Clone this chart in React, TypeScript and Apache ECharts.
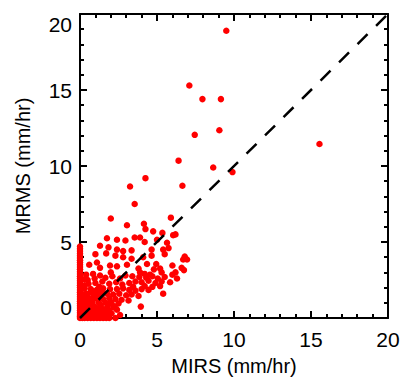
import React, { useEffect, useRef } from "react";
import * as echarts from "echarts";

// Axis setup (mm/hr)
const axisMin = 0;
const axisMax = 20;
const axisStep = 5;
const tickLabels = ["0", "5", "10", "15", "20"];

// MIRS (x) and MRMS (y) rain rates, paired by index
const mirsValues = [
  // sparse heavy-rain points
  9.5, 7.1, 7.95, 9.15, 7.45, 9.05, 6.4, 8.65, 9.9, 15.55, 6.65, 4.25, 3.25, 3.55,
  // 4-7 mm/hr band
  2.0, 5.9, 3.05, 4.15, 4.25, 4.75, 5.35, 6.05, 6.2, 1.75, 2.4, 2.95, 3.55, 3.9, 4.2, 5.0, 5.65,
  1.3, 1.85, 2.4, 2.8, 3.35, 4.65, 5.4, 5.75, 1.0, 1.7, 2.3, 2.8, 3.35, 4.1, 4.65, 5.5, 6.8, 6.7, 6.95,
  // 3-4 mm/hr band
  0.6, 1.1, 1.3, 1.95, 2.4, 3.05, 3.8, 4.35, 4.95, 5.2, 6.0, 6.6, 6.75, 6.2, 5.3, 4.8, 3.9, 4.2, 4.55, 2.0,
  // 2-3 mm/hr band
  0.4, 0.85, 1.3, 1.65, 2.1, 2.6, 2.95, 3.4, 3.85, 4.3, 4.7, 5.05, 5.5, 6.0, 6.3, 5.85, 5.3, 4.9,
  4.45, 4.0, 3.6, 3.2, 2.75, 2.35, 1.9, 1.45, 1.0, 0.55, 0.3, 5.2, 4.7, 4.2, 3.45,
  // 1-2 mm/hr band
  0.3, 0.7, 1.1, 1.5, 1.95, 2.4, 2.8, 3.2, 3.6, 4.0, 4.45, 5.4, 2.55, 2.15, 1.75, 1.3, 0.9, 0.5,
  3.0, 3.35, 3.8, 0.25, 0.65, 1.05, 1.5, 1.9, 2.3, 2.7, 3.15, 0.4, 0.8, 1.2, 1.65, 2.05, 2.5, 3.95,
  // light rain near the origin
  0.15, 0.35, 0.6, 0.95, 1.35, 1.8, 2.2, 0.1, 0.45, 0.75, 1.1, 1.5, 1.9, 2.4, 0.2, 0.55, 0.9, 1.25,
  1.65, 2.05, 0.05, 0.35, 0.7, 1.05, 1.4, 1.8, 2.6, 0.15, 0.5, 0.85, 1.2, 1.55, 0.25, 0.6,
  0.3, 0.5, 0.8, 1.0, 1.3, 0.45, 0.7, 1.15, 1.45, 0.2, 0.4, 0.65, 0.9,
  0.1, 0.25, 0.4, 0.55, 0.75, 0.95, 1.15, 1.35, 0.15, 0.3, 0.5, 0.7, 0.9, 1.1, 0.1, 0.3, 0.5,
  0.6, 0.85, 1.7, 2.0, 1.25, 1.6, 2.25, 0.95,
  // MIRS reports zero
  0, 0, 0, 0, 0, 0, 0, 0, 0, 0, 0, 0, 0, 0, 0, 0, 0,
  0, 0, 0, 0, 0, 0, 0, 0, 0, 0, 0, 0, 0, 0, 0, 0,
  // MRMS reports zero
  0.3, 0.7, 1.1, 1.5, 1.9, 2.3, 0.15, 0.5, 0.9, 1.3, 1.7,
];

const mrmsValues = [
  18.9, 15.3, 14.4, 14.4, 12.05, 12.35, 10.35, 9.9, 9.6, 11.45, 8.7, 9.2, 8.65, 7.5,
  6.55, 6.6, 6.1, 6.2, 5.85, 5.7, 5.6, 5.45, 5.5, 5.25, 5.15, 5.1, 5.3, 5.3, 5.0, 5.15, 4.95,
  4.75, 4.65, 4.5, 4.4, 4.45, 4.5, 4.5, 4.6, 4.2, 4.25, 4.1, 4.0, 3.9, 4.0, 4.1, 4.2, 4.05, 3.85, 3.85,
  3.5, 3.65, 3.3, 3.45, 3.4, 3.5, 3.25, 3.55, 3.55, 3.25, 3.45, 3.3, 3.15, 3.0, 3.0, 3.2, 3.0, 2.9, 2.85, 3.0,
  2.85, 2.9, 2.8, 2.65, 2.75, 2.6, 2.8, 2.75, 2.7, 2.65, 2.75, 2.6, 2.7, 2.85, 2.6, 2.35, 2.4, 2.3,
  2.45, 2.35, 2.4, 2.3, 2.2, 2.35, 2.25, 2.4, 2.3, 2.25, 2.55, 2.1, 2.05, 2.1, 2.05,
  1.95, 1.9, 1.85, 1.95, 1.9, 1.9, 1.95, 1.85, 1.8, 1.9, 1.85, 1.6, 1.6, 1.55, 1.6, 1.55, 1.6, 1.55,
  1.5, 1.55, 1.45, 1.3, 1.25, 1.3, 1.25, 1.3, 1.25, 1.2, 1.15, 1.05, 1.0, 1.05, 1.0, 0.95, 0.95, 0.75,
  0.9, 0.75, 0.8, 0.75, 0.8, 0.75, 0.7, 0.6, 0.55, 0.6, 0.55, 0.55, 0.5, 0.55, 0.4, 0.35, 0.4, 0.35,
  0.35, 0.3, 0.25, 0.2, 0.2, 0.2, 0.15, 0.15, 0.2, 0.05, 0.05, 0.05, 0.05, 0.05, 0.1, 0.12,
  1.1, 0.9, 1.2, 0.65, 0.9, 1.4, 1.7, 0.45, 1.75, 0.7, 1.6, 0.3, 1.4,
  0.45, 0.6, 0.3, 0.15, 0.45, 0.3, 0.5, 0.65, 0.85, 1.0, 1.15, 0.25, 1.35, 1.45, 1.6, 2.15, 2.5,
  1.1, 1.75, 0.6, 1.05, 2.05, 0.25, 0.75, 2.6,
  4.7, 4.4, 4.1, 3.8, 3.5, 3.2, 2.9, 2.6, 2.3, 2.0, 1.7, 1.4, 1.1, 0.8, 0.5, 0.2, 0,
  4.55, 4.25, 3.95, 3.65, 3.35, 3.05, 2.75, 2.45, 2.15, 1.85, 1.55, 1.25, 0.95, 0.65, 0.35, 0.1,
  0, 0, 0, 0, 0, 0, 0, 0, 0, 0, 0,
];

// 1:1 reference line
const oneToOne = [
  [axisMin, axisMin],
  [axisMax, axisMax],
];

const FONT = "'Liberation Sans', Arial, Helvetica, sans-serif";

export default function App() {
  const ref = useRef<HTMLDivElement>(null);

  useEffect(() => {
    if (!ref.current) return;
    const chart = echarts.init(ref.current, undefined, { renderer: "svg" });

    const points = mirsValues.map((x, i) => [x, mrmsValues[i]]);

    const tickStyle = { color: "#000", width: 2 };
    const frameAxis = (position: string, showLabels: boolean, extra: any = {}) => ({
      type: "value",
      position,
      min: axisMin,
      max: axisMax,
      interval: axisStep,
      axisLine: { show: true, onZero: false, lineStyle: { color: "#000", width: 2 } },
      axisTick: { show: true, inside: true, length: 7, lineStyle: tickStyle },
      minorTick: { show: true, splitNumber: 5, length: 4, lineStyle: { color: "#000", width: 2 } },
      splitLine: { show: false },
      axisLabel: showLabels
        ? {
            show: true,
            color: "#000",
            fontFamily: FONT,
            fontSize: 21,
            formatter: (v: number) => tickLabels[Math.round(v / axisStep)] ?? String(v),
            ...extra,
          }
        : { show: false },
    });

    chart.setOption({
      animation: false,
      backgroundColor: "#fff",
      grid: { left: 80, right: 17, top: 14, bottom: 60, containLabel: false },
      xAxis: [
        {
          ...frameAxis("bottom", true, { margin: 11 }),
          name: "MIRS (mm/hr)",
          nameLocation: "middle",
          nameGap: 38,
          nameTextStyle: { color: "#000", fontFamily: FONT, fontSize: 20 },
        },
        frameAxis("top", false),
      ],
      yAxis: [
        {
          ...frameAxis("left", true, {
            margin: 8,
            verticalAlignMinLabel: "bottom",
            verticalAlignMaxLabel: "top",
          }),
          name: "MRMS (mm/hr)",
          nameLocation: "middle",
          nameGap: 47,
          nameTextStyle: { color: "#000", fontFamily: FONT, fontSize: 20 },
        },
        frameAxis("right", false),
      ],
      series: [
        {
          type: "scatter",
          xAxisIndex: 0,
          yAxisIndex: 0,
          data: points,
          symbol: "circle",
          symbolSize: 6.5,
          itemStyle: { color: "#ff0000", opacity: 1 },
          z: 2,
        },
        {
          type: "line",
          xAxisIndex: 0,
          yAxisIndex: 0,
          data: oneToOne,
          symbol: "none",
          lineStyle: { color: "#000", width: 2.5, type: [14, 12] },
          z: 3,
        },
      ],
    });

    return () => chart.dispose();
  }, []);

  return (
    <div
      ref={ref}
      style={{ position: "fixed", left: 0, top: 0, width: 405, height: 381 }}
    />
  );
}
